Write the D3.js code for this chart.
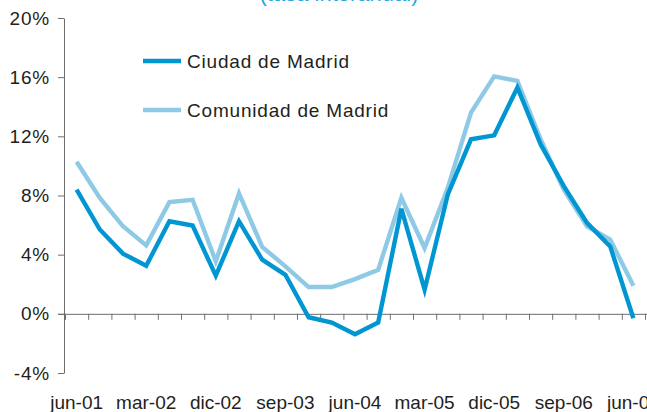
<!DOCTYPE html>
<html>
<head>
<meta charset="utf-8">
<script src="https://cdn.jsdelivr.net/npm/d3@7"></script>
<style>
  html, body { margin: 0; padding: 0; background: #fff; }
  svg { display: block; font-family: "Liberation Sans", Arial, Helvetica, sans-serif; }
</style>
</head>
<body>
<svg id="chart" width="647" height="412"></svg>
<script>
const categories = ["jun-01","sep-01","dic-01","mar-02","jun-02","sep-02","dic-02","mar-03","jun-03","sep-03","dic-03","mar-04","jun-04","sep-04","dic-04","mar-05","jun-05","sep-05","dic-05","mar-06","jun-06","sep-06","dic-06","mar-07","jun-07"];
const ciudad =    [8.4, 5.7, 4.07, 3.25, 6.26, 5.97, 2.58, 6.26, 3.66, 2.64, -0.23, -0.59, -1.38, -0.59, 7.1, 1.63, 8.07, 11.8, 12.07, 15.3, 11.46, 8.63, 6.15, 4.56, -0.3];
const comunidad = [10.28, 7.84, 5.92, 4.63, 7.55, 7.71, 3.55, 8.14, 4.52, 3.21, 1.81, 1.81, 2.35, 2.98, 7.84, 4.45, 8.52, 13.6, 16.05, 15.75, 11.8, 8.4, 5.92, 5.02, 1.9];
const seriesNames = ["Ciudad de Madrid", "Comunidad de Madrid"];
const yTicks = [-4, 0, 4, 8, 12, 16, 20];
const xLabels = ["jun-01","mar-02","dic-02","sep-03","jun-04","mar-05","dic-05","sep-06","jun-07"];
const title = "(tasa interanual)";

const svg = d3.select("#chart");
const colDark = "#0096d2", colLight = "#8ecae6";
const textCol = "#231f20", axisCol = "#6d6e71";

const x = d3.scaleBand().domain(categories).range([65, 645]).padding(0);
const xIdx = d3.scaleLinear().domain([0, categories.length]).range([65, 645]);
const y = d3.scaleLinear().domain([-4, 20]).range([373, 18]);

// title (mostly cropped at top)
svg.append("text").attr("x", 339).attr("y", 0.5).attr("text-anchor", "middle")
  .attr("fill", "#29a6e0").style("font-size", "22px").text(title);

// y axis
const yAxis = svg.append("g").attr("transform", "translate(64,0)")
  .call(d3.axisLeft(y).tickValues(yTicks).tickSize(6).tickSizeOuter(0).tickPadding(8).tickFormat(d => d + "%"));
yAxis.select(".domain").attr("stroke", axisCol);
yAxis.selectAll(".tick line").attr("stroke", axisCol);
yAxis.selectAll("text").attr("fill", textCol).style("font-size", "19px").style("letter-spacing", "0.8px")
  .style("font-family", "'Liberation Sans', Arial, sans-serif");

// zero line with ticks at category boundaries
const xAxis = svg.append("g").attr("transform", `translate(0,${y(0)})`)
  .call(d3.axisBottom(xIdx).tickValues(d3.range(0, categories.length + 1)).tickSize(6).tickSizeOuter(0).tickFormat(""));
xAxis.select(".domain").attr("stroke", axisCol).attr("d", `M58,0.5H647`);
xAxis.selectAll(".tick line").attr("stroke", axisCol);

// x labels
const xLab = svg.append("g").attr("transform", "translate(0,393)")
  .call(d3.axisBottom(x).tickValues(xLabels).tickSize(0).tickPadding(0));
xLab.select(".domain").remove();
xLab.selectAll("text").attr("fill", textCol).attr("dy", "0.85em").style("font-size", "19px")
  .style("font-family", "'Liberation Sans', Arial, sans-serif");

// lines
const line = d3.line().x((d, i) => x(categories[i]) + x.bandwidth() / 2).y(d => y(d));
svg.append("path").datum(comunidad).attr("d", line).attr("fill", "none")
  .attr("stroke", colLight).attr("stroke-width", 4.4).attr("stroke-linejoin", "miter");
svg.append("path").datum(ciudad).attr("d", line).attr("fill", "none")
  .attr("stroke", colDark).attr("stroke-width", 4.4).attr("stroke-linejoin", "miter");

// legend
const legend = svg.append("g");
const legY = [61, 110];
[colDark, colLight].forEach((c, i) => {
  legend.append("line").attr("x1", 143).attr("x2", 181).attr("y1", legY[i]).attr("y2", legY[i])
    .attr("stroke", c).attr("stroke-width", 4.4);
  legend.append("text").attr("x", 187).attr("y", legY[i] + 7).attr("fill", textCol)
    .style("font-size", "19px").style("letter-spacing", "0.8px").text(seriesNames[i]);
});
</script>
</body>
</html>
